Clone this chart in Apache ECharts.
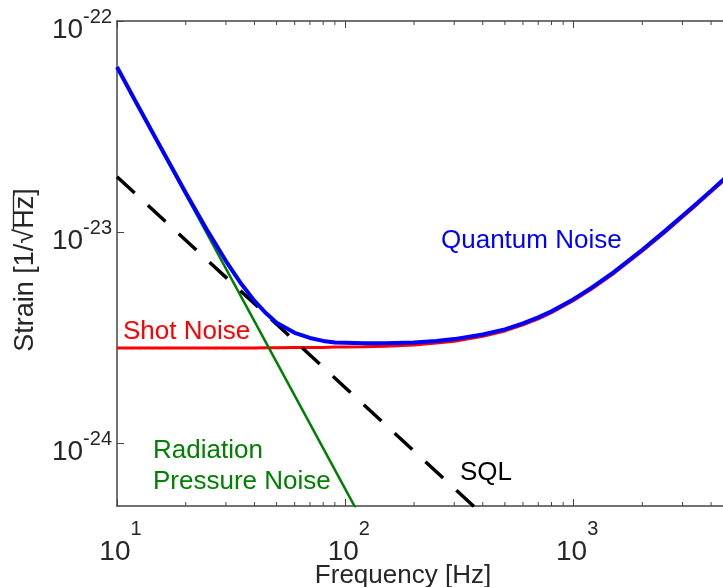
<!DOCTYPE html>
<html><head><meta charset="utf-8">
<script src="https://cdn.jsdelivr.net/npm/echarts@6/dist/echarts.min.js"></script>
<style>html,body{margin:0;padding:0;background:#fff}#c{width:723px;height:587px}</style>
</head><body><div id="c"></div>
<script>
// ---- data ----
const freq = [10,12,15,20,25,30,35,40,45,50,60,70,80,90,100,120,150,200,250,300,400,500,600,700,800,1000,1200,1500,2000,2500,3000,3500,4000,4650];
// strain values in units of 1e-24 / sqrt(Hz)
const shotNoise = [2.82,2.82,2.82,2.82,2.82,2.82,2.82,2.82,2.83,2.83,2.84,2.84,2.84,2.85,2.85,2.86,2.88,2.92,2.98,3.04,3.21,3.40,3.63,3.88,4.15,4.74,5.37,6.37,8.13,9.93,11.78,13.63,15.50,17.94];
const quantumNoise = [60.6,42.1,27.05,15.36,10.08,7.29,5.69,4.72,4.12,3.72,3.33,3.15,3.05,3.00,2.99,2.97,2.97,3.00,3.05,3.11,3.27,3.46,3.69,3.94,4.21,4.81,5.45,6.46,8.25,10.08,11.95,13.83,15.73,18.2];
const rpFreq = [10,20,50,100,120];
const radiationPressure = [60.5,15.1,2.42,0.605,0.42];
const sqlFreq = [10,30,100,300,400];
const sqlValues = [18.3,6.1,1.83,0.61,0.4575];
const UNIT = 1e-24;
const xMinorTicks = [20,30,40,50,60,70,80,90,200,300,400,500,600,700,800,900,2000,3000,4000];
const yMinorTicks = [6e-25,7e-25,8e-25,9e-25,2e-24,3e-24,4e-24,5e-24,6e-24,7e-24,8e-24,9e-24,2e-23,3e-23,4e-23,5e-23,6e-23,7e-23,8e-23,9e-23];
const X_MIN = 10, X_MAX = 4650, Y_MIN = 5.03e-25, Y_MAX = 1.002e-22;

const FONT = 'Liberation Sans';
const AX = '#444';
const TXT = '#262626';

function pairs(xs, ys) { return xs.map((x, i) => [x, ys[i] * UNIT]); }
function expOf(v) {
  const e = Math.log10(v); const r = Math.round(e);
  return Math.abs(e - r) < 1e-6 ? r : null;
}

const chart = echarts.init(document.getElementById('c'), null, {renderer: 'canvas'});

function tickItem(isX) {
  return function (params, api) {
    const v = api.value(0);
    const kids = [];
    if (isX) {
      const b = api.coord([v, Y_MIN]), t = api.coord([v, Y_MAX]);
      kids.push({type: 'line', shape: {x1: b[0], y1: b[1], x2: b[0], y2: b[1] - 4}, style: {stroke: AX, lineWidth: 1}});
      kids.push({type: 'line', shape: {x1: t[0], y1: t[1], x2: t[0], y2: t[1] + 4}, style: {stroke: AX, lineWidth: 1}});
    } else {
      const l = api.coord([X_MIN, v]);
      kids.push({type: 'line', shape: {x1: l[0], y1: l[1], x2: l[0] + 4, y2: l[1]}, style: {stroke: AX, lineWidth: 1}});
    }
    return {type: 'group', children: kids};
  };
}

// y title with overline over Hz
const ctx = document.createElement('canvas').getContext('2d');
const YFS = 27;
ctx.font = YFS + 'px "' + FONT + '"';
const yTitle = 'Strain [1/\u221AHz]';
const wAll = ctx.measureText(yTitle).width;
const wPre = ctx.measureText('Strain [1/\u221A').width;
const wHz = ctx.measureText('Strain [1/\u221AHz').width;

const option = {
  backgroundColor: '#fff',
  animation: false,
  grid: {left: 117, top: 21, right: -3, bottom: 81, containLabel: false, outerBoundsMode: 'none'},
  xAxis: [{
    type: 'log', min: X_MIN, max: X_MAX, position: 'bottom',
    axisLine: {show: true, lineStyle: {color: AX, width: 1.5}},
    axisTick: {show: true, inside: true, length: 7, lineStyle: {color: AX, width: 1}},
    splitLine: {show: false}, minorTick: {show: false},
    axisLabel: {
      margin: 13, color: TXT, fontFamily: FONT, showMinLabel: true,
      formatter: function (v) { const e = expOf(v); return e === null ? '' : '{b|10}{s|' + e + '}'; },
      rich: {
        b: {fontSize: 28, lineHeight: 28, fontFamily: FONT, color: TXT, verticalAlign: 'top', padding: [19, 0, 0, 7]},
        s: {fontSize: 20, lineHeight: 20, fontFamily: FONT, color: TXT, verticalAlign: 'top'}
      }
    }
  }, {
    type: 'log', min: X_MIN, max: X_MAX, position: 'top',
    axisLine: {show: true, lineStyle: {color: AX, width: 1.5}},
    axisTick: {show: true, inside: true, length: 7, lineStyle: {color: AX, width: 1}},
    splitLine: {show: false}, axisLabel: {show: false}
  }],
  yAxis: [{
    type: 'log', min: Y_MIN, max: Y_MAX,
    axisLine: {show: true, lineStyle: {color: AX, width: 1.5}},
    axisTick: {show: true, inside: true, length: 7, lineStyle: {color: AX, width: 1}},
    splitLine: {show: false}, minorTick: {show: false},
    axisLabel: {
      margin: 5, color: TXT, fontFamily: FONT, showMaxLabel: true, hideOverlap: false,
      padding: [0, 0, 10, 0],
      formatter: function (v) { const e = expOf(v); return e === null ? '' : '{b|10}{s|' + e + '}'; },
      rich: {
        b: {fontSize: 28, lineHeight: 28, fontFamily: FONT, color: TXT, verticalAlign: 'top', padding: [14, 0, 0, 0]},
        s: {fontSize: 20, lineHeight: 20, fontFamily: FONT, color: TXT, verticalAlign: 'top', padding: [5.5, 0, 0, 0]}
      }
    }
  }],
  series: [
    {type: 'custom', silent: true, renderItem: tickItem(true), data: xMinorTicks.map(v => [v, Y_MIN]), clip: false, z: 1},
    {type: 'custom', silent: true, renderItem: tickItem(false), data: yMinorTicks.map(v => [X_MIN, v]), clip: false, z: 1},
    {name: 'Shot Noise', type: 'line', data: pairs(freq, shotNoise), symbol: 'none', lineStyle: {color: '#ff0000', width: 3}, z: 2},
    {name: 'Radiation Pressure Noise', type: 'line', data: pairs(rpFreq, radiationPressure), symbol: 'none', lineStyle: {color: '#008000', width: 2.5}, z: 3},
    {name: 'SQL', type: 'line', data: pairs(sqlFreq, sqlValues), symbol: 'none', lineStyle: {color: '#000', width: 3.5, type: [24, 18]}, z: 4},
    {name: 'Quantum Noise', type: 'line', data: pairs(freq, quantumNoise), symbol: 'none', lineStyle: {color: '#0000ff', width: 4}, z: 5}
  ],
  graphic: [
    {type: 'text', x: 441, y: 241, style: {text: 'Quantum Noise', font: '26px "' + FONT + '"', fill: '#0000ff', align: 'left', verticalAlign: 'middle'}, z: 10},
    {type: 'text', x: 123, y: 332, style: {text: 'Shot Noise', font: '26px "' + FONT + '"', fill: '#ff0000', align: 'left', verticalAlign: 'middle'}, z: 10},
    {type: 'text', x: 153, y: 451, style: {text: 'Radiation', font: '26px "' + FONT + '"', fill: '#008000', align: 'left', verticalAlign: 'middle'}, z: 10},
    {type: 'text', x: 153, y: 482, style: {text: 'Pressure Noise', font: '26px "' + FONT + '"', fill: '#008000', align: 'left', verticalAlign: 'middle'}, z: 10},
    {type: 'text', x: 460, y: 473, style: {text: 'SQL', font: '26px "' + FONT + '"', fill: '#000', align: 'left', verticalAlign: 'middle'}, z: 10},
    {type: 'text', x: 403, y: 576, style: {text: 'Frequency [Hz]', font: '26px "' + FONT + '"', fill: TXT, align: 'center', verticalAlign: 'middle'}, z: 10},
    {type: 'group', x: 25.5, y: 270, rotation: Math.PI / 2, z: 10, children: [
      {type: 'text', x: 0, y: 0, style: {text: yTitle, font: YFS + 'px "' + FONT + '"', fill: TXT, align: 'center', verticalAlign: 'middle'}},
      {type: 'line', shape: {x1: -wAll / 2 + wPre - 1, y1: -12, x2: -wAll / 2 + wHz + 1, y2: -12}, style: {stroke: TXT, lineWidth: 1.3}}
    ]}
  ]
};
chart.setOption(option);
</script></body></html>
